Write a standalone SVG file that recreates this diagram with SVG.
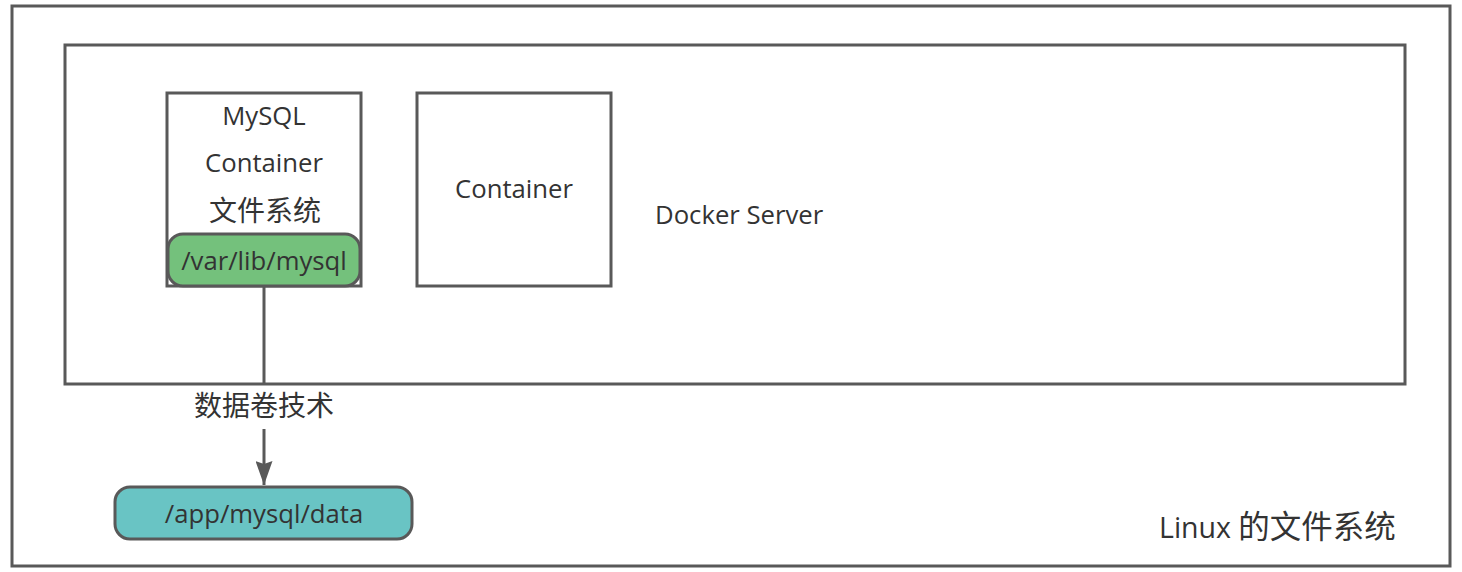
<svg xmlns="http://www.w3.org/2000/svg" width="1462" height="572" viewBox="0 0 1462 572">
<style>
.box{fill:#ffffff;stroke:#595959;stroke-width:3}
.t{font-family:"Open Sans","Noto Sans CJK SC",sans-serif;font-size:25.7px;fill:#333333;text-anchor:middle}
.tl{font-family:"Open Sans","Noto Sans CJK SC",sans-serif;font-size:25.7px;fill:#333333}
.cj{font-size:28px}
.ln{stroke:#595959;stroke-width:3;fill:none}
</style>
<defs>
<marker id="arr" viewBox="0 0 24 17" refX="24" refY="8.5" markerWidth="24" markerHeight="17" markerUnits="userSpaceOnUse" orient="auto">
<path d="M0,0 L24,8.5 L0,17 L3,8.5 Z" fill="#595959"/>
</marker>
</defs>
<g id="linux">
<rect class="box" x="12" y="6" width="1438" height="560"/>
<text class="tl" x="1159" y="538" style="font-size:28.5px">Linux <tspan style="font-size:31.5px">的文件系统</tspan></text>
</g>
<g id="docker-server">
<rect class="box" x="65" y="45" width="1340" height="339"/>
<text class="tl" x="655" y="224">Docker Server</text>
</g>
<g id="mysql-container">
<rect class="box" x="167" y="93" width="194" height="193"/>
<text class="t" x="264" y="125">MySQL</text>
<text class="t" x="264" y="172">Container</text>
<text class="t cj" x="265" y="221">文件系统</text>
</g>
<g id="var-lib-mysql">
<rect x="168" y="234" width="192" height="52" rx="15" fill="#74c17c" stroke="#595959" stroke-width="3"/>
<text class="t" x="264" y="270">/var/lib/mysql</text>
</g>
<g id="container">
<rect class="box" x="417" y="93" width="194" height="193"/>
<text class="t" x="514" y="198">Container</text>
</g>
<g id="app-mysql-data">
<rect x="115" y="487" width="297" height="52" rx="15" fill="#69c4c4" stroke="#595959" stroke-width="3"/>
<text class="t" x="264" y="523">/app/mysql/data</text>
</g>
<g id="connectors">
<line class="ln" x1="264" y1="429" x2="264" y2="485" marker-end="url(#arr)"/>
<line class="ln" x1="264" y1="287" x2="264" y2="383"/>
<text class="t cj" x="264" y="416">数据卷技术</text>
</g>
</svg>
